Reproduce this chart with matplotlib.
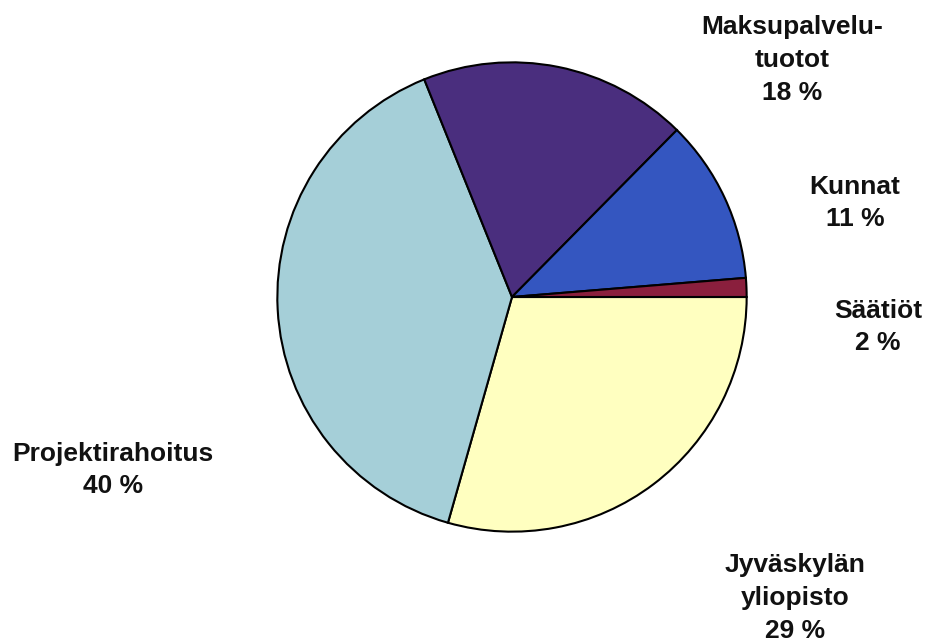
import matplotlib
matplotlib.use('Agg')
import matplotlib.pyplot as plt

# slice shares (clockwise from 3 o'clock)
categories = ['Jyväskylän\nyliopisto', 'Projektirahoitus', 'Maksupalvelu-\ntuotot', 'Kunnat', 'Säätiöt']
shares = [29.4, 39.5, 18.5, 11.3, 1.3]
pct_labels = ['29 %', '40 %', '18 %', '11 %', '2 %']
colors = ['#FFFFC0', '#A5CFD8', '#4A2E7E', '#3456C0', '#8A1F3D']

# label centres in pixel coordinates (x, y from top)
label_pos = [(795, 598), (113, 470), (792, 60), (855, 203), (878, 327)]

W, H = 937, 642
fig = plt.figure(figsize=(W / 100, H / 100), dpi=100)

cx, cy, r = 512, 297, 237
ax = fig.add_axes([(cx - r) / W, (H - cy - r) / H, 2 * r / W, 2 * r / H])
ax.pie(shares, colors=colors, startangle=0, counterclock=False, radius=1,
       wedgeprops=dict(edgecolor='black', linewidth=1.5))
ax.set_xlim(-1.01, 1.01)
ax.set_ylim(-1.01, 1.01)
ax.set_aspect('equal')
ax.axis('off')

for name, pct, (px, py) in zip(categories, pct_labels, label_pos):
    fig.text(px / W, 1 - py / H, name + '\n' + pct, ha='center', va='center',
             fontsize=19, fontweight='bold', family='Liberation Sans',
             linespacing=1.45, color='#111111')

plt.savefig('out.png', dpi=100, facecolor='white')
